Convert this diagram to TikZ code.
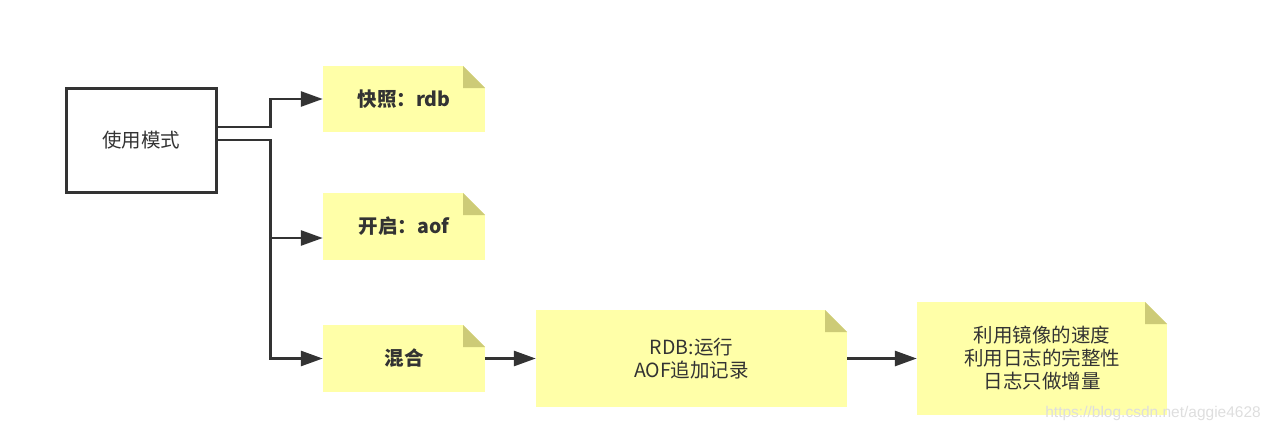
\documentclass[tikz,border=0pt]{standalone}
\usepackage{fontspec}
\setmainfont{Noto Sans CJK SC}
\newfontfamily\wmfont{Liberation Sans}
\usetikzlibrary{arrows.meta,calc}
\definecolor{notefill}{HTML}{FFFFA8}
\definecolor{foldfill}{HTML}{CDCB77}
\definecolor{ink}{HTML}{333333}
\begin{document}
\begin{tikzpicture}[x=1pt,y=-1pt,
  note/.style={fill=notefill, inner sep=0pt, align=center, text=ink,
    font=\fontsize{19.5pt}{23pt}\selectfont,
    path picture={
      \fill[white] ([xshift=-22pt]path picture bounding box.north east) -- (path picture bounding box.north east) -- ([yshift=-22pt]path picture bounding box.north east) -- cycle;
      \fill[foldfill] ([xshift=-22pt]path picture bounding box.north east) -- ([xshift=-22pt,yshift=-22pt]path picture bounding box.north east) -- ([yshift=-22pt]path picture bounding box.north east) -- cycle;
    }},
  boldnote/.style={note, font=\fontsize{19.5pt}{23pt}\selectfont\bfseries},
  mainbox/.style={draw=ink, line width=3pt, fill=white, inner sep=0pt, text=ink,
    font=\fontsize{19.5pt}{23pt}\selectfont},
  conn/.style={draw=ink, line width=2.8pt, -{Triangle[length=22pt,width=15pt]}}
]
\useasboundingbox (0,0) rectangle (1269,428);
\node[mainbox, minimum width=150pt, minimum height=104pt] (box) at (141,140) {使用模式};
\node[boldnote, minimum width=162pt, minimum height=66pt] (n1) at (404,99) {快照：rdb};
\node[boldnote, minimum width=162pt, minimum height=67pt] (n2) at (404,226.5) {开启：aof};
\node[boldnote, minimum width=162pt, minimum height=67pt] (n3) at (404,358.5) {混合};
\node[note, minimum width=311pt, minimum height=97pt] (n4) at (691.5,358.5) {RDB:运行\\AOF追加记录};
\node[note, minimum width=250pt, minimum height=113pt] (n5) at (1042,358.5) {利用镜像的速度\\利用日志的完整性\\日志只做增量};
\draw[conn] ([yshift=13pt]box.east) -- ++(53,0) |- (n1.west);
\draw[conn] (box.east) -- ++(53,0) |- ([yshift=-11.5pt]n2.west);
\draw[conn] (box.east) -- ++(53,0) |- (n3.west);
\draw[conn] (n3.east) -- (n4.west);
\draw[conn] (n4.east) -- (n5.west);
\node[anchor=base east, inner sep=0pt, text=black!13, font=\wmfont\fontsize{15.5pt}{18pt}\selectfont] (wm) at (1261,417) {https://blog.csdn.net/aggie4628};
\end{tikzpicture}
\end{document}
